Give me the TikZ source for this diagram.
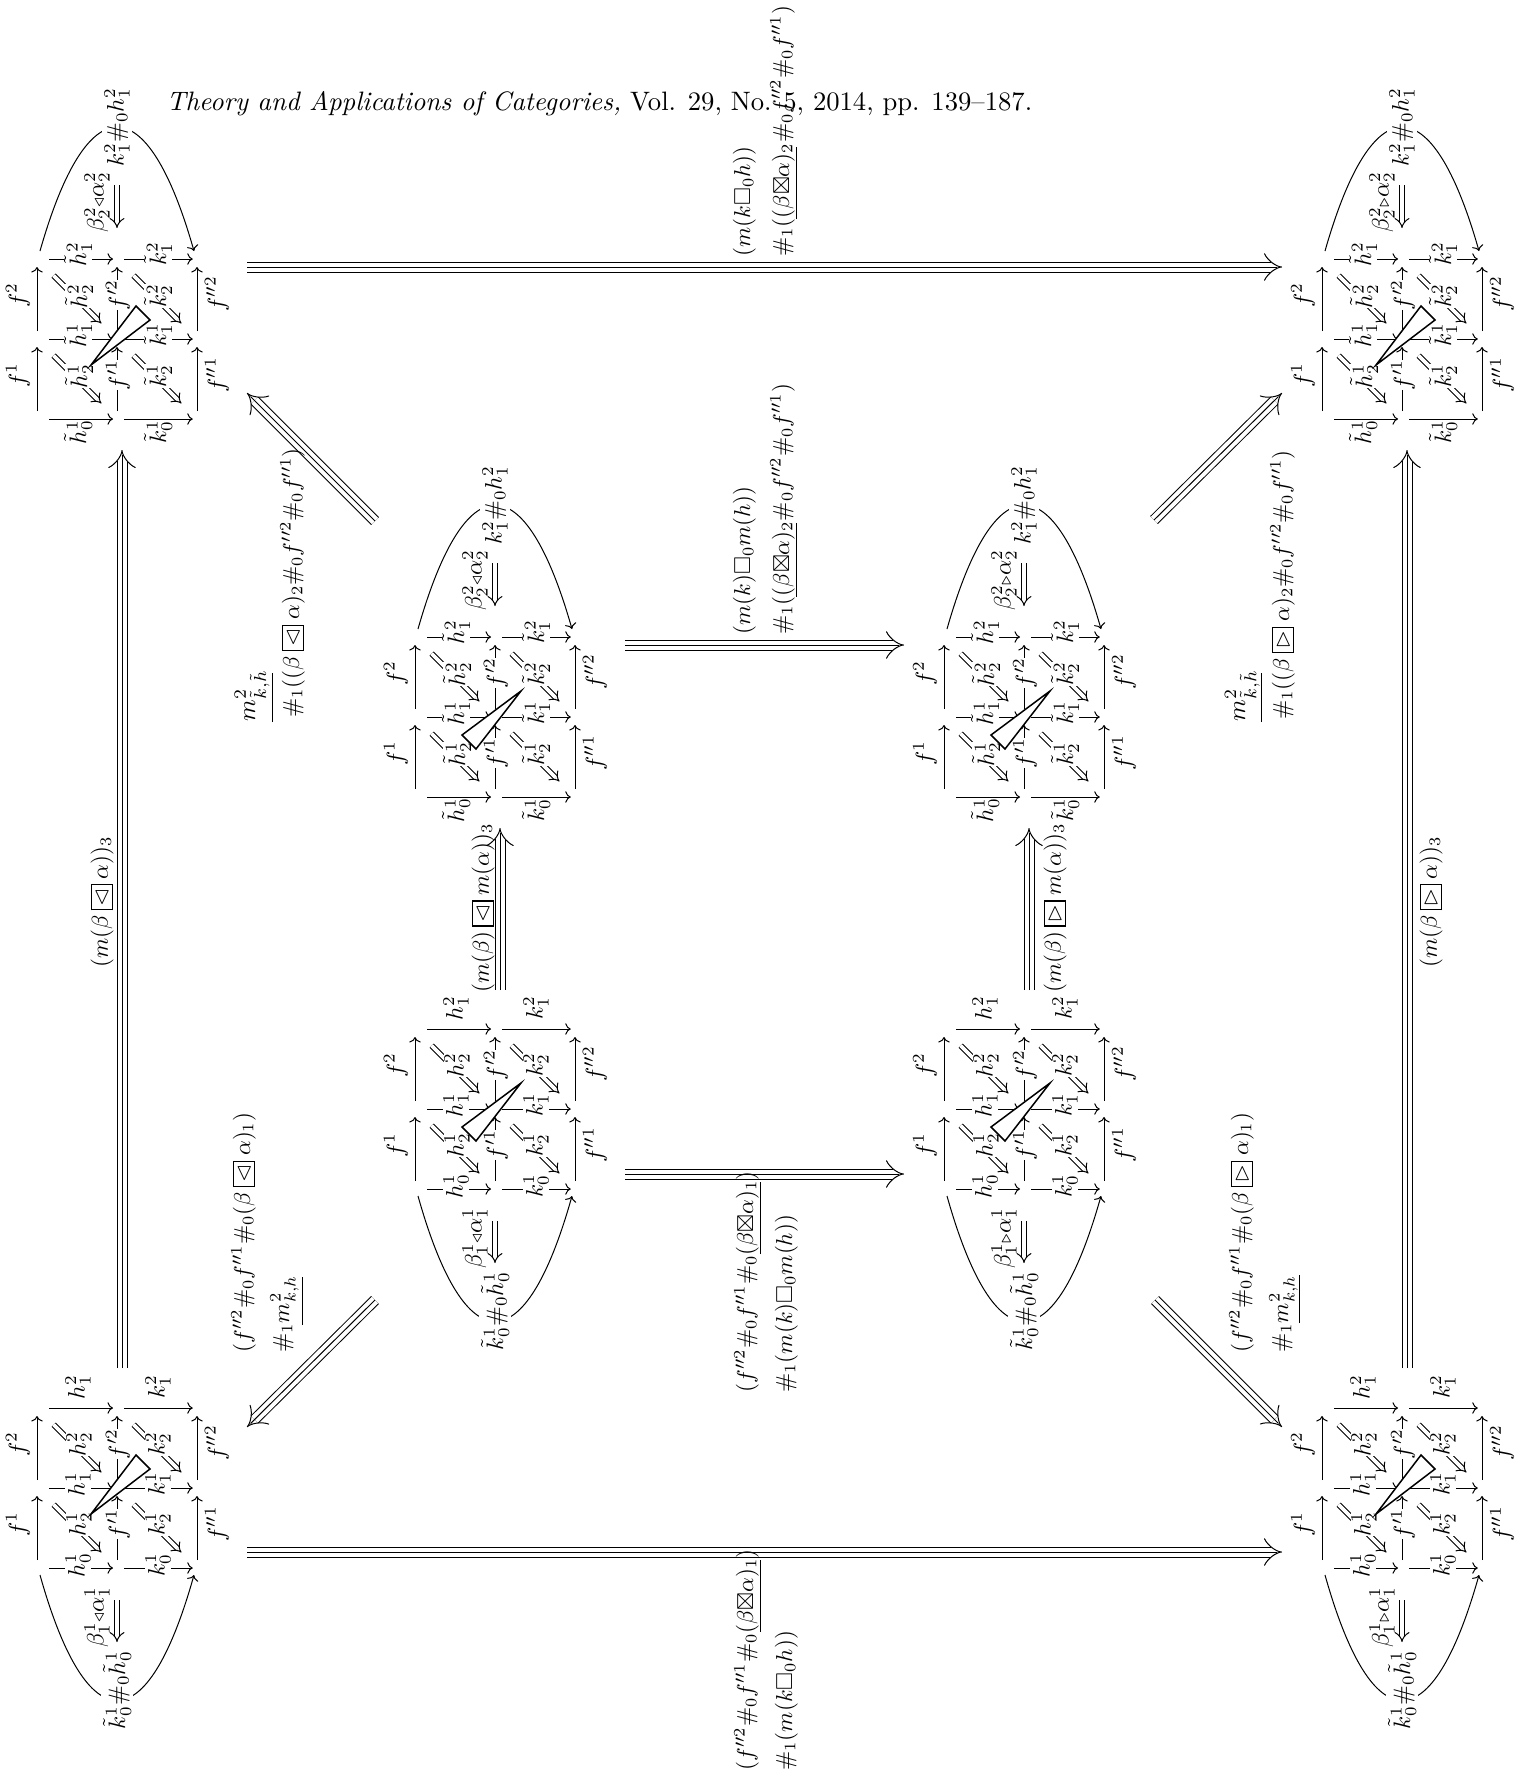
\documentclass[tikz,border=0pt]{standalone}
\usepackage{amssymb}
\usetikzlibrary{arrows.meta}
\newcommand\bxl{\mathbin{\setlength{\fboxsep}{1.3pt}\setlength{\fboxrule}{0.5pt}\fbox{$\vartriangleleft$}}}
\newcommand\bxr{\mathbin{\setlength{\fboxsep}{1.3pt}\setlength{\fboxrule}{0.5pt}\fbox{$\vartriangleright$}}}
\newcommand\ff[1]{f^{\prime\prime #1}}
\newcommand\bt{\mathord{\boxtimes}}
\tikzset{
  x=0.4pt,y=-0.4pt,
  smalltip/.style={-{Computer Modern Rightarrow[length=2.2pt,width=4.6pt]}},
  harra/.style={smalltip,shorten <=4.8pt,shorten >=1.6pt},
  harrb/.style={smalltip,shorten <=2.9pt,shorten >=1.7pt},
  varr/.style={smalltip,shorten <=3.2pt,shorten >=3.2pt},
  cellarr/.style={double,double distance=1.5pt,-{Implies[length=5pt,width=7.5pt]},shorten <=9.4pt,shorten >=8.8pt},
  arcarr/.style={smalltip},
  twoarr/.style={double,double distance=1.7pt,-{Implies[length=4pt,width=6pt]}},
  wedgeshape/.style={draw,fill=white,line width=0.6pt,line join=miter},
  lab/.style={rotate=90,fill=white,inner sep=0pt,scale=0.95},
  labn/.style={rotate=90,inner sep=0pt,scale=0.95},
  labb/.style={rotate=90,inner sep=0pt,scale=0.92},
  txt/.style={rotate=90,anchor=base west,inner sep=0pt,scale=0.92},
  rulel/.style={line width=0.4pt},
  threeout/.style={double,double distance=3.6pt,-{Implies[length=4.6pt,width=5.6pt]}},
  threein/.style={shorten >=2pt},
}
\newcommand\triplearrow[5]{%
  \coordinate (#1s) at (#2,#3);
  \coordinate (#1e) at (#4,#5);
  \draw[threeout] (#1s) -- (#1e);
  \draw[threein] (#1s) -- (#1e);
}
\newcommand\cdgrid{%
  \foreach \cx/\cn in {-80/0,0/1,80/2}{\foreach \cy/\rn in {-80/0,0/1,80/2}{\coordinate (v\cn\rn) at (\cx,\cy);}}
  \foreach \cn in {0,1,2}{
    \draw[varr] (v\cn2) -- (v\cn1);
    \draw[varr] (v\cn1) -- (v\cn0);}
  \foreach \rn in {0,1,2}{
    \draw[harra] (v0\rn) -- (v1\rn);
    \draw[harrb] (v1\rn) -- (v2\rn);}
  \draw[cellarr] (v00) -- (v11);
  \draw[cellarr] (v10) -- (v21);
  \draw[cellarr] (v01) -- (v12);
  \draw[cellarr] (v11) -- (v22);
  \node[labn] (f1) at (-99,36) {$f^1$};
  \node[labn] (f2) at (-99,-44) {$f^2$};
  \node[lab] (g1) at (1,36) {$f^{\prime 1}$};
  \node[lab] (g2) at (1,-44) {$f^{\prime 2}$};
  \node[labn] (p1) at (100,36) {$\ff{1}$};
  \node[labn] (p2) at (100,-45) {$\ff{2}$};
}
\newcommand\cdtop[1]{% tilde labels, arc on top; #1 = symbol
  \node[lab] (ht) at (-39,-85) {$\tilde h_1^2$};
  \node[lab] (kt) at (41,-85) {$\tilde k_1^2$};
  \node[lab] (hm) at (-39,-4) {$\tilde h_1^1$};
  \node[lab] (km) at (41,-4) {$\tilde k_1^1$};
  \node[labn] (hb) at (-39,93) {$\tilde h_0^1$};
  \node[labn] (kb) at (41,93) {$\tilde k_0^1$};
  \node[lab] (du) at (-38,-43) {$\tilde h_2^2$};
  \node[lab] (dv) at (41,-43) {$\tilde k_2^2$};
  \node[lab] (dw) at (-38,37) {$\tilde h_2^1$};
  \node[lab] (dx) at (41,37) {$\tilde k_2^1$};
  \coordinate (al) at (-77,-88);
  \coordinate (ar) at (77,-88);
  \draw[arcarr] (al) .. controls (-30,-253) and (30,-253) .. (ar);
  \node[lab,inner sep=1pt] (arcl) at (0,-212) {$k_1^2\#_0 h_1^2$};
  \coordinate (da) at (0,-154);
  \coordinate (db) at (0,-111);
  \draw[twoarr] (da) -- (db);
  \node[labn] (dl) at (-20,-137) {$\beta_2^2{\scriptstyle #1}\alpha_2^2$};
}
\newcommand\cdbot[1]{% plain labels, arc below; #1 = symbol
  \node[labn] (ht) at (-39,-101) {$h_1^2$};
  \node[labn] (kt) at (41,-101) {$k_1^2$};
  \node[lab] (hm) at (-39,-4) {$h_1^1$};
  \node[lab] (km) at (41,-4) {$k_1^1$};
  \node[lab] (hb) at (-39,77) {$h_0^1$};
  \node[lab] (kb) at (41,77) {$k_0^1$};
  \node[lab] (du) at (-38,-44) {$h_2^2$};
  \node[lab] (dv) at (41,-44) {$k_2^2$};
  \node[lab] (dw) at (-38,36) {$h_2^1$};
  \node[lab] (dx) at (41,36) {$k_2^1$};
  \coordinate (al) at (-77,87);
  \coordinate (ar) at (77,87);
  \draw[arcarr] (al) .. controls (-30,254) and (30,254) .. (ar);
  \node[lab,inner sep=1pt] (arcl) at (0,202) {$\tilde k_0^1\#_0\tilde h_0^1$};
  \coordinate (da) at (0,112);
  \coordinate (db) at (0,154);
  \draw[twoarr] (da) -- (db);
  \node[labn] (dl) at (-20,129) {$\beta_1^1{\scriptstyle #1}\alpha_1^1$};
}
\newcommand\wedgeoutside{\draw[wedgeshape] (-26,26) -- (19,-33) -- (33,-19) -- cycle;}
\newcommand\wedgeinside{\draw[wedgeshape] (26,-26) -- (-33,18) -- (-19,32) -- cycle;}
\newcommand\smalldiag[5]{% name,x,y,labels,wedge
  \begin{scope}[shift={(#2,#3)},name prefix=#1-]
    \cdgrid
    #4
    #5
  \end{scope}}
\begin{document}
\begin{tikzpicture}
\path[use as bounding box] (0,0) rectangle (1526,1780);
\node[anchor=base west,inner sep=0pt,scale=1.066] (head) at (166,110) {\textit{Theory and Applications of Categories,} Vol. 29, No. 5, 2014, pp. 139--187.};

\smalldiag{tl}{117}{339}{\cdtop{\triangleleft}}{\wedgeoutside}
\smalldiag{tr}{1402}{339}{\cdtop{\triangleright}}{\wedgeoutside}
\smalldiag{bl}{117}{1488}{\cdbot{\triangleleft}}{\wedgeoutside}
\smalldiag{br}{1402}{1488}{\cdbot{\triangleright}}{\wedgeoutside}
\smalldiag{ml}{495}{717}{\cdtop{\triangleleft}}{\wedgeinside}
\smalldiag{mr}{1024}{717}{\cdtop{\triangleright}}{\wedgeinside}
\smalldiag{nl}{495}{1109}{\cdbot{\triangleleft}}{\wedgeinside}
\smalldiag{nr}{1024}{1109}{\cdbot{\triangleright}}{\wedgeinside}

\triplearrow{ta}{247}{267}{1282}{267}
\triplearrow{tb}{247}{1552}{1282}{1552}
\triplearrow{tc}{625}{645}{904}{645}
\triplearrow{td}{625}{1174}{904}{1174}
\triplearrow{te}{122}{1368}{122}{450}
\triplearrow{tf}{1407}{1368}{1407}{450}
\triplearrow{tg}{500}{990}{500}{828}
\triplearrow{th}{1029}{990}{1029}{828}
\triplearrow{ti}{375}{521}{247}{393}
\triplearrow{tj}{375}{1300}{247}{1427}
\triplearrow{tk}{1154}{520}{1282}{393}
\triplearrow{tl}{1155}{1300}{1282}{1427}

% top main label
\node[txt] (a1) at (750,257) {$(m(k\square_0 h))$};
\node[txt] (a2) at (789,257) {$\#_1((\beta\bt\alpha)_2\#_0\ff{2}\#_0\ff{1})$};
\coordinate (a3) at (796,219); \coordinate (a4) at (796,147);
\draw[rulel] (a3) -- (a4);
% middle top label
\node[txt] (b1) at (750,635) {$(m(k)\square_0 m(h))$};
\node[txt] (b2) at (789,635) {$\#_1((\beta\bt\alpha)_2\#_0\ff{2}\#_0\ff{1})$};
\coordinate (b3) at (796,597); \coordinate (b4) at (796,523);
\draw[rulel] (b3) -- (b4);
% middle bottom label
\node[txt] (c1) at (753,1393) {$(\ff{2}\#_0\ff{1}\#_0(\beta\bt\alpha)_1)$};
\node[txt] (c2) at (792,1393) {$\#_1(m(k)\square_0 m(h))$};
\coordinate (c3) at (760,1254); \coordinate (c4) at (760,1182);
\draw[rulel] (c3) -- (c4);
% bottom main label
\node[txt] (d1) at (753,1771) {$(\ff{2}\#_0\ff{1}\#_0(\beta\bt\alpha)_1)$};
\node[txt] (d2) at (792,1771) {$\#_1(m(k\square_0 h))$};
\coordinate (d3) at (760,1632); \coordinate (d4) at (760,1560);
\draw[rulel] (d3) -- (d4);
% vertical labels
\node[labb] (e1) at (102,902) {$(m(\beta\bxl\alpha))_3$};
\node[labb] (e2) at (1431,902) {$(m(\beta\bxr\alpha))_3$};
\node[labb] (e3) at (483,908) {$(m(\beta)\bxl m(\alpha))_3$};
\node[labb] (e4) at (1055,908) {$(m(\beta)\bxr m(\alpha))_3$};
% diagonal labels
\node[txt,scale=1.08] (h1) at (255,722) {$m^2_{\tilde k,\tilde h}$};
\coordinate (h2) at (272,722); \coordinate (h3) at (272,673);
\draw[rulel] (h2) -- (h3);
\node[txt] (h4) at (299,718) {$\#_1((\beta\bxl\alpha)_2\#_0\ff{2}\#_0\ff{1})$};
\node[txt,scale=1.08] (i1) at (1245,722) {$m^2_{\tilde k,\tilde h}$};
\coordinate (i2) at (1261,722); \coordinate (i3) at (1261,673);
\draw[rulel] (i2) -- (i3);
\node[txt] (i4) at (1289,720) {$\#_1((\beta\bxr\alpha)_2\#_0\ff{2}\#_0\ff{1})$};
\node[txt] (j1) at (250,1353) {$(\ff{2}\#_0\ff{1}\#_0(\beta\bxl\alpha)_1)$};
\node[txt] (j2) at (289,1353) {$\#_1 m^2_{k,h}$};
\coordinate (j3) at (302,1325); \coordinate (j4) at (302,1277);
\draw[rulel] (j3) -- (j4);
\node[txt] (k1) at (1248,1353) {$(\ff{2}\#_0\ff{1}\#_0(\beta\bxr\alpha)_1)$};
\node[txt] (k2) at (1288,1353) {$\#_1 m^2_{k,h}$};
\coordinate (k3) at (1299,1323); \coordinate (k4) at (1299,1275);
\draw[rulel] (k3) -- (k4);
\end{tikzpicture}
\end{document}
